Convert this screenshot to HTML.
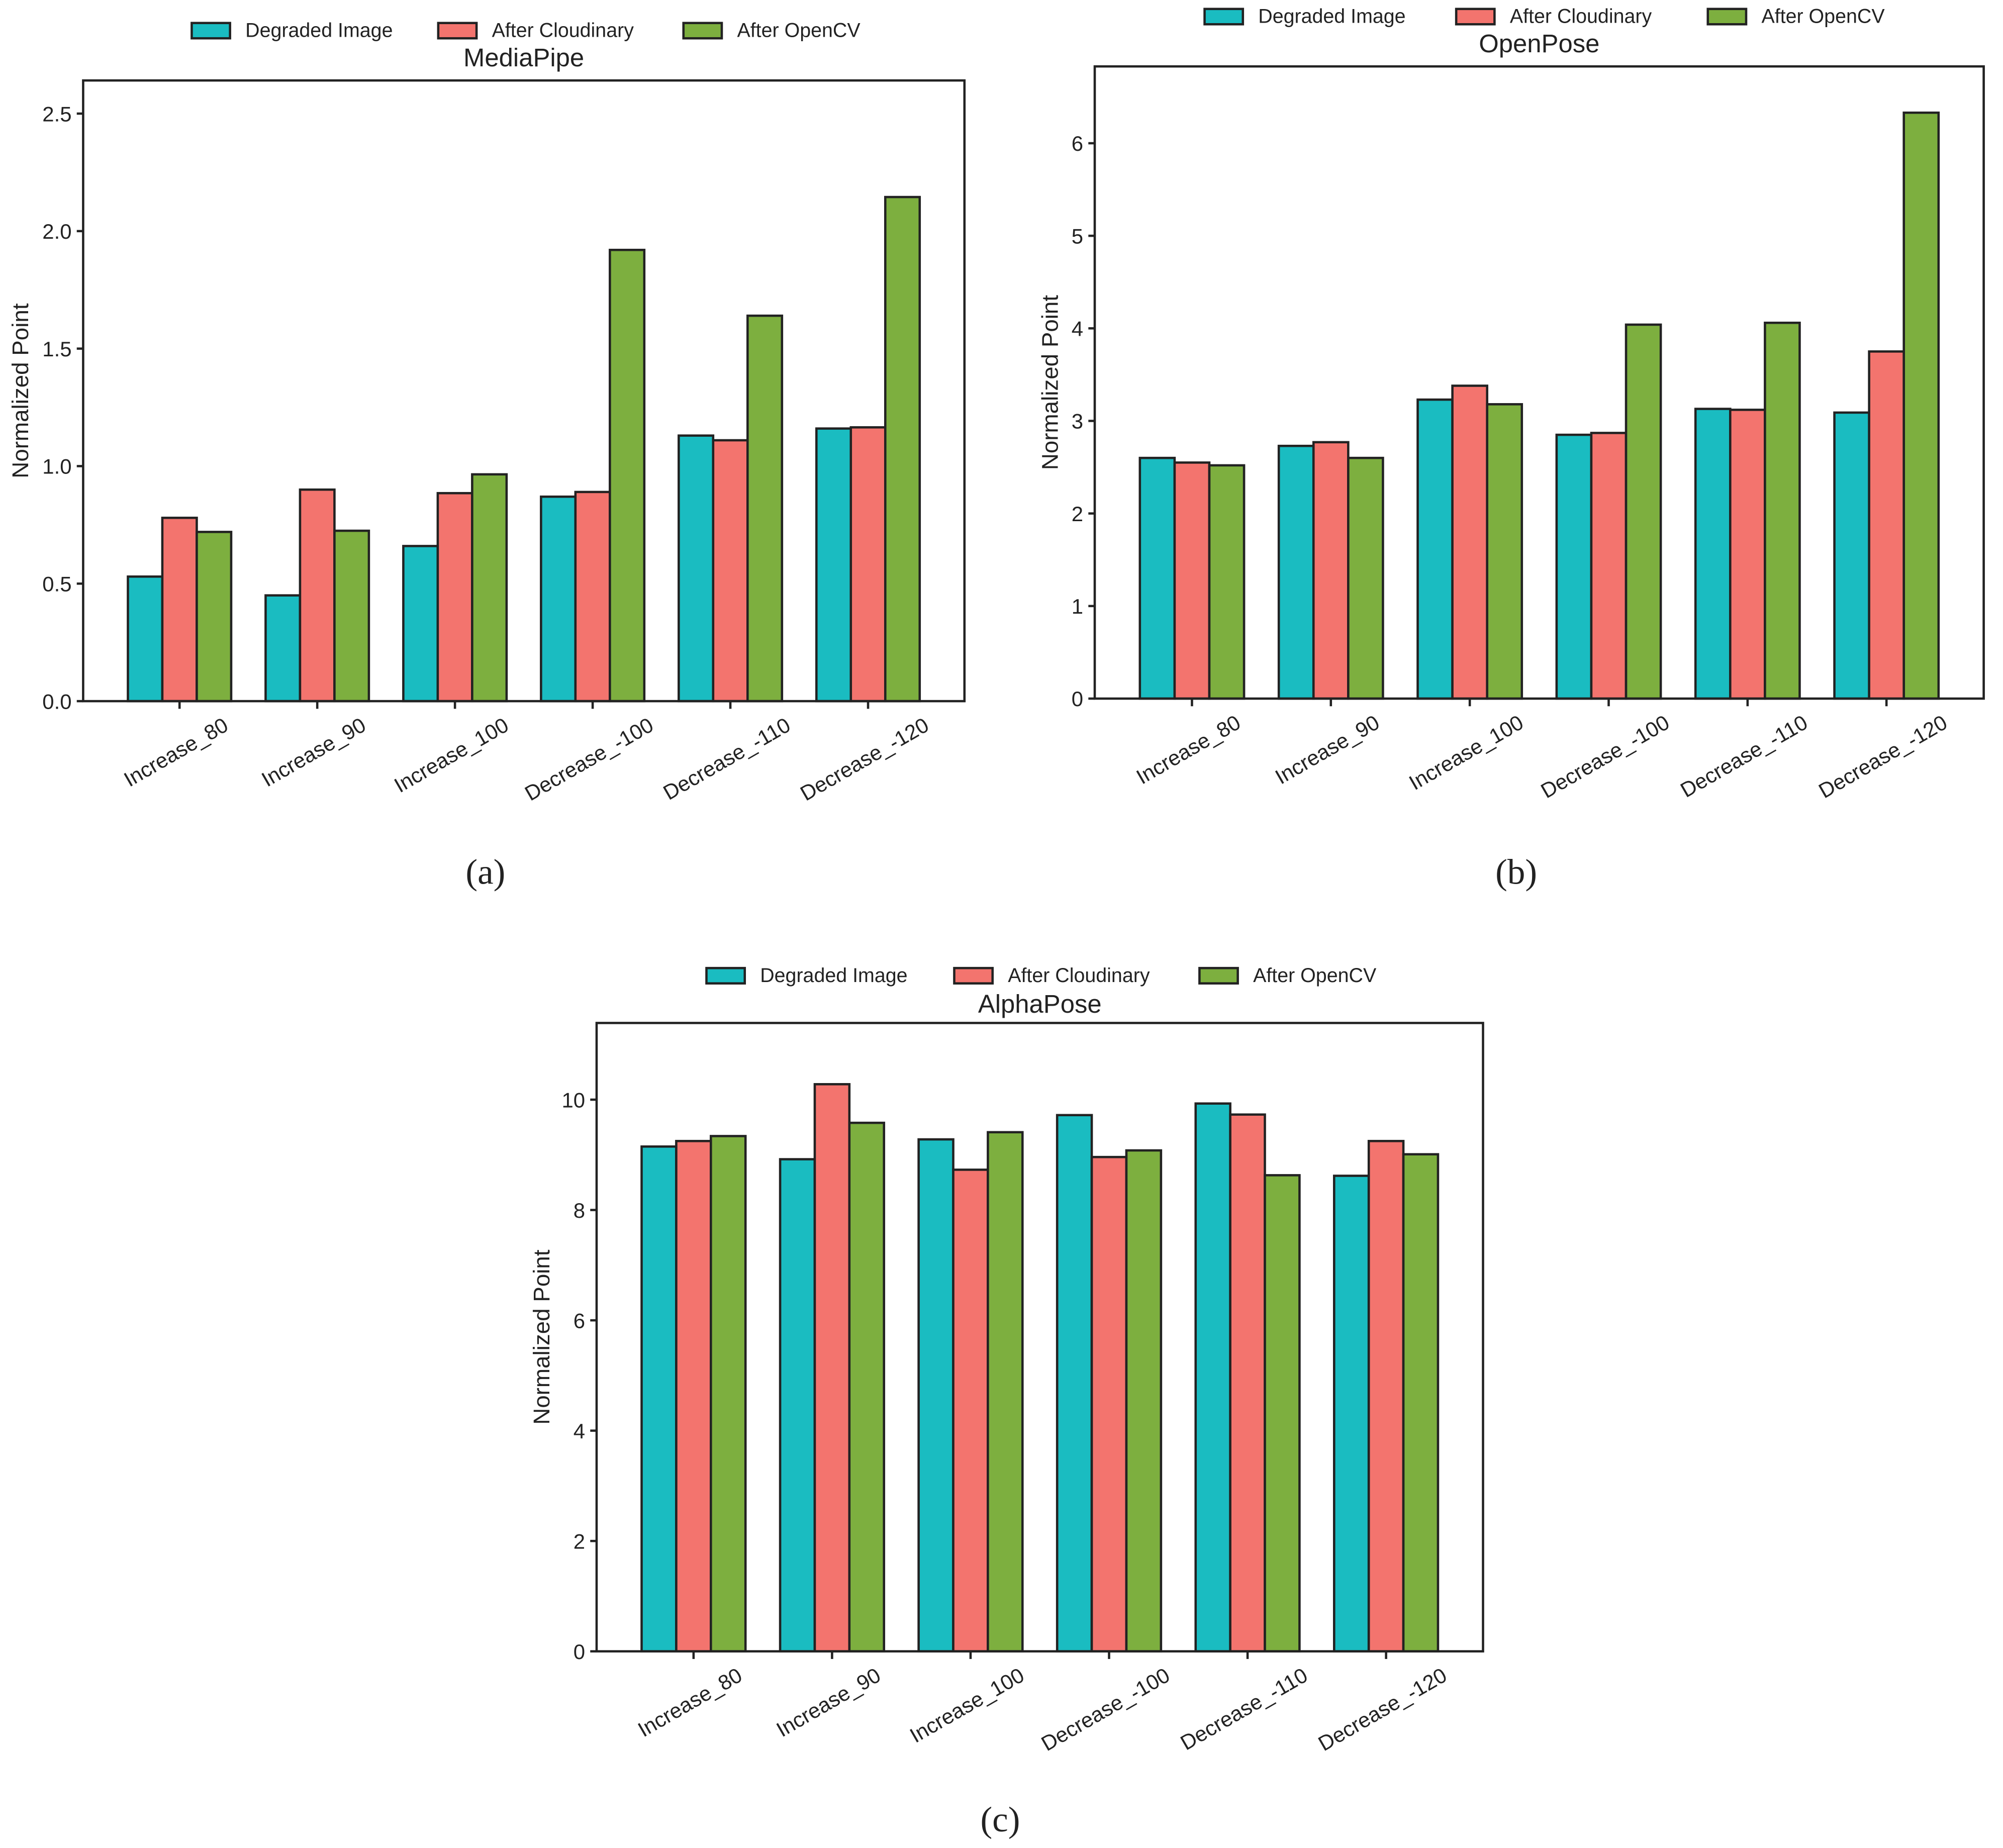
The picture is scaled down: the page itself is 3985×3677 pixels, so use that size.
<!DOCTYPE html>
<html><head><meta charset="utf-8"><style>
html,body{margin:0;padding:0;background:#fff;}
svg{display:block;font-family:"Liberation Sans",sans-serif;}
</style></head><body>
<svg id="fig" width="3985" height="3677" viewBox="0 0 1568 1447" xmlns="http://www.w3.org/2000/svg"></svg>
<script>
const categories = ["Increase_80","Increase_90","Increase_100","Decrease_-100","Decrease_-110","Decrease_-120"];
const seriesNames = ["Degraded Image","After Cloudinary","After OpenCV"];
const mpDegraded = [0.53,0.45,0.66,0.87,1.13,1.16];
const mpCloudinary = [0.78,0.90,0.885,0.89,1.11,1.165];
const mpOpenCV = [0.72,0.725,0.965,1.92,1.64,2.145];
const opDegraded = [2.60,2.73,3.23,2.85,3.13,3.09];
const opCloudinary = [2.55,2.77,3.38,2.87,3.12,3.75];
const opOpenCV = [2.52,2.60,3.18,4.04,4.06,6.33];
const apDegraded = [9.15,8.92,9.28,9.72,9.93,8.62];
const apCloudinary = [9.25,10.28,8.73,8.96,9.73,9.25];
const apOpenCV = [9.34,9.58,9.41,9.08,8.63,9.01];
const mpTicks = [0,0.5,1.0,1.5,2.0,2.5];
const mpTickLabels = ["0.0","0.5","1.0","1.5","2.0","2.5"];
const opTicks = [0,1,2,3,4,5,6];
const opTickLabels = ["0","1","2","3","4","5","6"];
const apTicks = [0,2,4,6,8,10];
const apTickLabels = ["0","2","4","6","8","10"];

const NS="http://www.w3.org/2000/svg";
const svg=document.getElementById('fig');
const colors=["#1abcc1","#f3746e","#7daf3f"];
function mk(tag,attrs,parent){const e=document.createElementNS(NS,tag);for(const k in attrs)e.setAttribute(k,attrs[k]);(parent||svg).appendChild(e);return e;}

function drawChart(c){
  const g=mk('g',{});
  
  
  const yS=v=>c.bottom-(v/c.ymax)*(c.bottom-c.top);
  const n=c.cats.length;
  const step=(c.right-c.left)/(n-1+1.4);
  const xS=i=>c.left+(0.7+i)*step;
  const bw=step*0.25;
  c.series.forEach((arr,s)=>{
    arr.forEach((v,i)=>{
      const x=xS(i)+(s-1)*bw-bw/2;
      const r=mk('rect',{x:x,y:yS(v),width:bw,height:c.bottom-yS(v),fill:colors[s],stroke:"#222",'stroke-width':1.8},g);
      
      
    });
  });
  const f=mk('rect',{x:c.left,y:c.top,width:c.right-c.left,height:c.bottom-c.top,fill:"none",stroke:"#222",'stroke-width':1.8},g);
  
  
  c.ticks.forEach((t,k)=>{
    const y=yS(t);
    mk('line',{x1:c.left-5,x2:c.left,y1:y,y2:y,stroke:"#222",'stroke-width':1.8},g);
    const tx=mk('text',{x:c.left-9,y:y+6,'text-anchor':'end','font-size':16.5,fill:"#222"},g);
    tx.textContent=c.tickLabels[k];
    
    
  });
  c.cats.forEach((lab,i)=>{
    const x=xS(i);
    mk('line',{x1:x,x2:x,y1:c.bottom,y2:c.bottom+6,stroke:"#222",'stroke-width':1.8},g);
    const tx=mk('text',{x:0,y:0,'text-anchor':'middle','font-size':16.5,fill:"#222"},g);
    tx.textContent=lab;
    
    
    const w=tx.getComputedTextLength?tx.getComputedTextLength():lab.length*8.5;
    const cy=c.bottom+10+(w*0.5+16.5*0.866)/2;
    tx.setAttribute('transform','translate('+x+','+(cy+5)+') rotate(-30)');
  });
  const yl=mk('text',{x:0,y:0,'text-anchor':'middle','font-size':18,fill:"#222",transform:'translate('+c.ylx+','+((c.top+c.bottom)/2)+') rotate(-90)'},g);
  yl.textContent="Normalized Point";
  
  
  const ti=mk('text',{x:(c.left+c.right)/2,y:c.titleY,'text-anchor':'middle','font-size':20,fill:"#222"},g);
  ti.textContent=c.title;
  
  
  c.legX.forEach((lx,s)=>{
    const r=mk('rect',{x:lx,y:c.legY-6,width:30,height:12,fill:colors[s],stroke:"#222",'stroke-width':1.8},g);
    
    
    const t=mk('text',{x:lx+42,y:c.legY+5,'font-size':15.5,fill:"#222"},g);
    t.textContent=seriesNames[s];
    
    
  });
  const sc=mk('text',{x:c.capX,y:c.capY,'text-anchor':'middle','font-size':28,fill:"#222",'font-family':'"Liberation Serif",serif'},g);
  sc.textContent=c.cap;
  
  
}

drawChart({id:'mediapipe',title:'MediaPipe',left:65,right:755,top:63,bottom:549,ymax:2.641,cats:categories,
  series:[mpDegraded,mpCloudinary,mpOpenCV],ticks:mpTicks,tickLabels:mpTickLabels,ylx:22,titleY:52,
  legX:[150,343,535],legY:24,capX:380,capY:692,cap:'(a)'});
drawChart({id:'openpose',title:'OpenPose',left:857,right:1553,top:52,bottom:547,ymax:6.83,cats:categories,
  series:[opDegraded,opCloudinary,opOpenCV],ticks:opTicks,tickLabels:opTickLabels,ylx:828,titleY:41,
  legX:[943,1140,1337],legY:13,capX:1187,capY:692,cap:'(b)'});
drawChart({id:'alphapose',title:'AlphaPose',left:467,right:1161,top:801,bottom:1293,ymax:11.39,cats:categories,
  series:[apDegraded,apCloudinary,apOpenCV],ticks:apTicks,tickLabels:apTickLabels,ylx:430,titleY:793,
  legX:[553,747,939],legY:764,capX:783,capY:1434,cap:'(c)'});
</script>
</body></html>
